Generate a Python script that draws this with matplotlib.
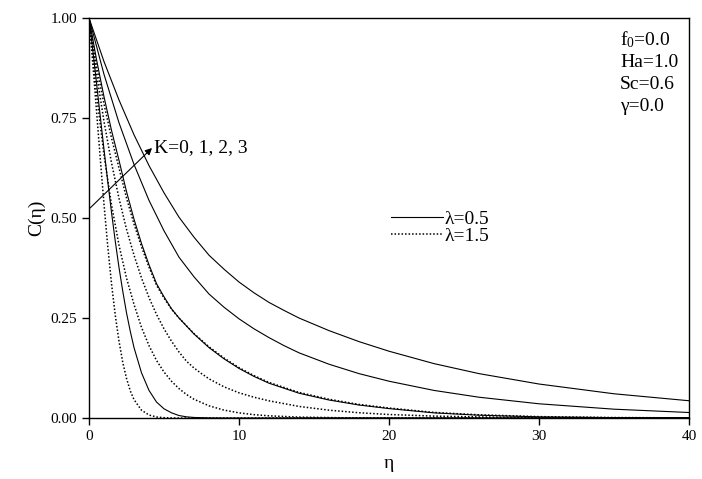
import matplotlib
matplotlib.use("Agg")
import matplotlib.pyplot as plt

plt.rcParams["font.family"] = ["Liberation Serif", "DejaVu Serif"]
plt.rcParams["mathtext.fontset"] = "custom"
plt.rcParams["mathtext.rm"] = "Liberation Serif"
plt.rcParams["mathtext.it"] = "Liberation Serif:italic"

# lambda = 0.5 (solid lines), K = 0, 1, 2, 3
eta_s0 = [0, 0.25, 0.5, 0.75, 1.0, 1.25, 1.5, 1.75, 2.0, 2.25, 2.5, 2.75, 3.0, 3.5, 4.0, 4.5,
          5.0, 5.5, 6.0, 6.5, 7.0, 8.0, 9.0, 40]
c_s0 = [1, 0.920, 0.838, 0.754, 0.671, 0.591, 0.514, 0.442, 0.376, 0.317, 0.263, 0.217, 0.176,
        0.113, 0.069, 0.040, 0.023, 0.013, 0.0062, 0.003, 0.0014, 0.0003, 0, 0]

eta_s1 = [0, 0.5, 1, 1.5, 2, 2.5, 3, 3.5, 4, 4.5, 5, 5.5, 6, 7, 8, 9, 10, 11, 12, 14, 16, 18,
          20, 23, 26, 30, 35, 40]
c_s1 = [1, 0.896, 0.803, 0.719, 0.644, 0.566, 0.497, 0.436, 0.383, 0.336, 0.303, 0.273, 0.250,
        0.210, 0.176, 0.148, 0.124, 0.104, 0.087, 0.062, 0.045, 0.0325, 0.0236, 0.0129, 0.0071,
        0.0029, 0.001, 0.0003]

eta_s2 = [0, 1, 2, 3, 4, 5, 6, 7, 8, 9, 10, 11, 12, 13, 14, 16, 18, 20, 23, 26, 30, 35, 40]
c_s2 = [1, 0.859, 0.738, 0.634, 0.544, 0.468, 0.402, 0.353, 0.310, 0.277, 0.248, 0.223, 0.201,
        0.181, 0.163, 0.1345, 0.111, 0.092, 0.069, 0.052, 0.0356, 0.0221, 0.0138]

eta_s3 = [0, 1, 2, 3, 4, 5, 6, 7, 8, 9, 10, 11, 12, 13, 14, 16, 18, 20, 23, 26, 30, 35, 40]
c_s3 = [1, 0.891, 0.795, 0.708, 0.631, 0.563, 0.502, 0.452, 0.407, 0.372, 0.340, 0.313, 0.289,
        0.269, 0.250, 0.2185, 0.191, 0.167, 0.136, 0.111, 0.085, 0.0606, 0.0432]

# lambda = 1.5 (dotted lines), K = 0, 1, 2, 3
eta_d0 = [0, 0.25, 0.5, 0.75, 1.0, 1.25, 1.5, 1.75, 2.0, 2.25, 2.5, 2.75, 3.0, 3.5, 4.0, 4.5,
          5.0, 5.5, 6.0, 40]
c_d0 = [1, 0.887, 0.768, 0.649, 0.534, 0.429, 0.336, 0.257, 0.192, 0.139, 0.099, 0.068, 0.046,
        0.0195, 0.0075, 0.0026, 0.0008, 0.0002, 0, 0]

eta_d1 = [0, 0.5, 1, 1.5, 2, 2.5, 3, 3.5, 4, 4.5, 5, 5.5, 6, 6.5, 7, 8, 9, 10, 11, 12, 14, 17,
          20, 25, 40]
c_d1 = [1, 0.811, 0.657, 0.533, 0.432, 0.350, 0.284, 0.2265, 0.181, 0.144, 0.115, 0.092, 0.0735,
        0.0587, 0.0469, 0.0305, 0.0198, 0.0129, 0.0084, 0.0055, 0.0023, 0.0006, 0.0002, 0, 0]

eta_d2 = [0, 0.5, 1, 1.5, 2, 2.5, 3, 3.5, 4, 4.5, 5, 5.5, 6, 6.5, 7, 7.5, 8, 9, 10, 11, 12, 14,
          16, 18, 20, 23, 26, 30, 35, 40]
c_d2 = [1, 0.861, 0.741, 0.638, 0.549, 0.472, 0.407, 0.350, 0.301, 0.259, 0.223, 0.192, 0.165,
        0.142, 0.125, 0.111, 0.098, 0.078, 0.063, 0.052, 0.043, 0.029, 0.0196, 0.0132, 0.0088,
        0.0048, 0.0027, 0.0012, 0.0004, 0.0001]

eta_d3 = [0, 0.5, 1, 1.5, 2, 2.5, 3, 3.5, 4, 4.5, 5, 5.5, 6, 7, 8, 9, 10, 11, 12, 14, 16, 18,
          20, 23, 26, 30, 35, 40]
c_d3 = [1, 0.880, 0.785, 0.700, 0.625, 0.550, 0.485, 0.428, 0.377, 0.332, 0.300, 0.272, 0.250,
        0.211, 0.178, 0.150, 0.126, 0.106, 0.089, 0.064, 0.047, 0.034, 0.025, 0.014, 0.008,
        0.0035, 0.0012, 0.0004]

solid_curves = [(eta_s0, c_s0), (eta_s1, c_s1), (eta_s2, c_s2), (eta_s3, c_s3)]
dotted_curves = [(eta_d0, c_d0), (eta_d1, c_d1), (eta_d2, c_d2), (eta_d3, c_d3)]

params = ["f$_\\mathrm{0}$=0.0", "Ha=1.0", "Sc=0.6", "\u03b3=0.0"]

fig = plt.figure(figsize=(7.02, 4.79), dpi=100)
ax = fig.add_axes([0.1268, 0.1273, 0.8547, 0.8351])

for i, (x, y) in enumerate(solid_curves):
    ax.plot(x, y, color="black", lw=0.8, label="\u03bb=0.5" if i == 0 else None)
for i, (x, y) in enumerate(dotted_curves):
    ax.plot(x, y, color="black", lw=1.1, linestyle=(0, (1, 1.3)),
            label="\u03bb=1.5" if i == 0 else None)

ax.set_xlim(0, 40)
ax.set_ylim(0, 1)
ax.set_xticks([0, 10, 20, 30, 40])
ax.set_yticks([0, 0.25, 0.5, 0.75, 1.0])
ax.set_yticklabels(["0.00", "0.25", "0.50", "0.75", "1.00"])
ax.tick_params(direction="out", length=5, width=1, labelsize=11,
               top=False, right=False)
for sp in ax.spines.values():
    sp.set_linewidth(1.0)

ax.set_xlabel("\u03b7", fontsize=14, labelpad=9)
ax.set_ylabel("C(\u03b7)", fontsize=14, labelpad=4)

# arrow: curves move outward as K grows
ax.annotate("", xy=(4.2, 0.675), xytext=(0.07, 0.525),
            arrowprops=dict(arrowstyle="-|>", color="black", lw=0.8,
                            mutation_scale=10, shrinkA=0, shrinkB=0))
ax.text(4.3, 0.675, "K=0, 1, 2, 3", fontsize=14, va="center", ha="left")

ax.legend(loc="center left", bbox_to_anchor=(0.503, 0.476), frameon=False,
          fontsize=14, handlelength=2.7, handletextpad=0.08,
          labelspacing=0.0, borderaxespad=0, borderpad=0)

for i, p in enumerate(params):
    ax.text(0.885, 0.945 - i * 0.055, p, transform=ax.transAxes,
            fontsize=14, va="center", ha="left")

fig.savefig("out.png", dpi=100)
